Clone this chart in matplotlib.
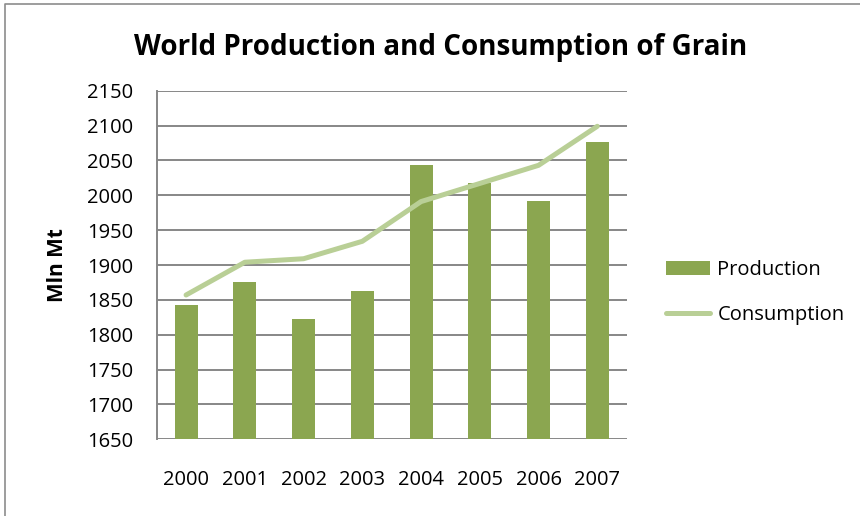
import numpy as np
import matplotlib
matplotlib.use('Agg')
import matplotlib.pyplot as plt
from matplotlib.lines import Line2D

years = ['2000', '2001', '2002', '2003', '2004', '2005', '2006', '2007']
production = [1843, 1876, 1822, 1863, 2043, 2018, 1992, 2076]
consumption = [1857, 1904, 1909, 1934, 1991, 2017, 2043, 2099]

bar_color = '#8ba650'
line_color = '#b9cf96'
grid_color = '#878787'

plt.rcParams['font.family'] = ['Open Sans', 'DejaVu Sans']

fig = plt.figure(figsize=(8.6, 5.16), dpi=100)
ax = fig.add_axes([0.1822, 0.1486, 0.5465, 0.6756])

x = np.arange(len(years))
bars = ax.bar(x, production, width=0.39, color=bar_color, label='Production', zorder=3)
line, = ax.plot(x, consumption, color=line_color, lw=3.6, label='Consumption',
                solid_capstyle='round', zorder=4)

ax.set_xlim(-0.5, len(years) - 0.5)
ax.set_ylim(1650, 2150)
ax.set_yticks(np.arange(1650, 2151, 50))
ax.set_xticks(x)
ax.set_xticklabels(years)
ax.tick_params(axis='both', length=0, labelsize=14.5)
ax.tick_params(axis='x', pad=22)
ax.tick_params(axis='y', pad=17)
ax.yaxis.grid(True, color=grid_color, lw=1.4, zorder=0)

for s in ['top', 'right', 'bottom']:
    ax.spines[s].set_visible(False)
ax.spines['left'].set_color(grid_color)
ax.spines['left'].set_linewidth(1.4)

ax.set_ylabel('Mln Mt', fontsize=15, fontweight='bold', labelpad=14)

fig.text(0.512, 0.908, 'World Production and Consumption of Grain',
         ha='center', va='center', fontsize=20, fontweight='bold')

ax.legend([bars, line], ['Production', 'Consumption'], loc='center left',
          bbox_to_anchor=(1.045, 0.42), frameon=False, fontsize=14.5,
          handlelength=2.2, handletextpad=0.35, labelspacing=1.25)

# chart border (outer frame, cut on right and bottom)
fig.add_artist(Line2D([5 / 860, 5 / 860, 1.0], [0.0, 1 - 4 / 516, 1 - 4 / 516],
                      transform=fig.transFigure, color='#8c8c8c', lw=1.2))

fig.savefig('out.png', dpi=100)
